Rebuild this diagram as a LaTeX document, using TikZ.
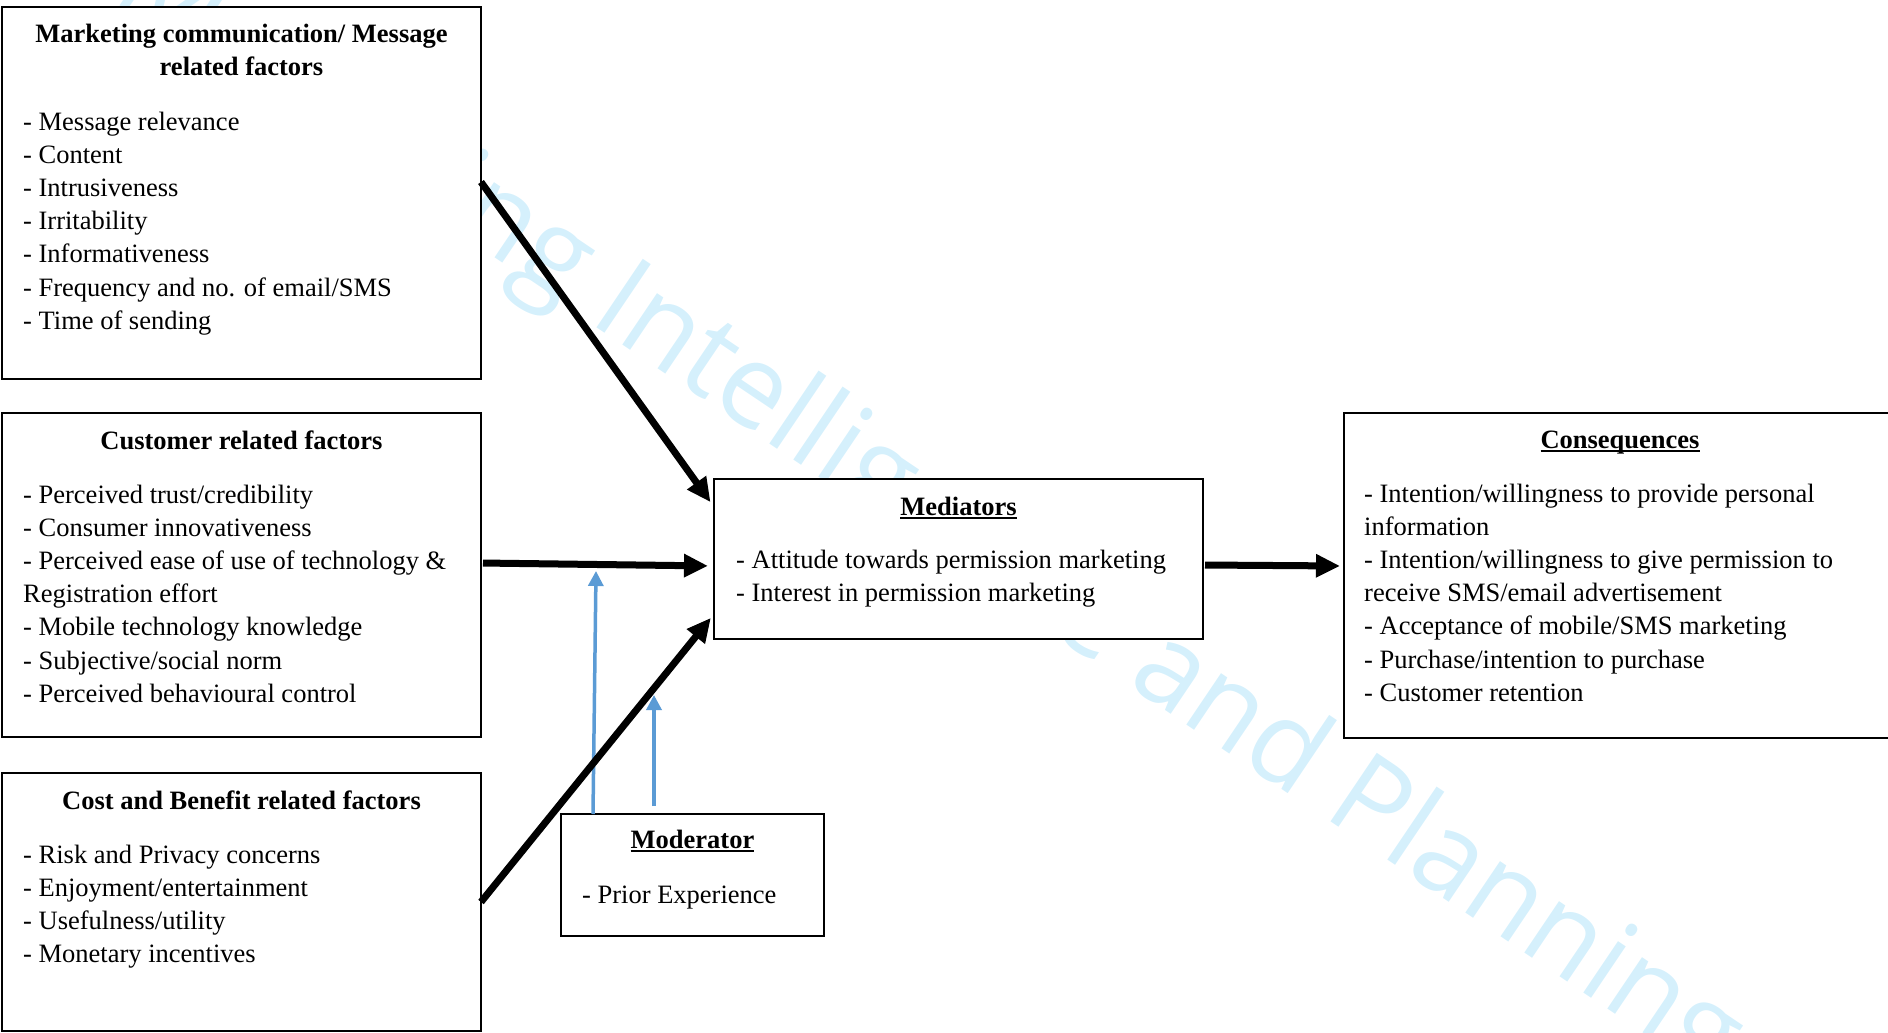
\documentclass[tikz,border=0pt]{standalone}
\usepackage{fontspec}
\setmainfont{Liberation Serif}
\newfontfamily\wmfont{Open Sans}
\usetikzlibrary{arrows.meta,calc}
\definecolor{wmblue}{RGB}{213,240,252}
\definecolor{modblue}{RGB}{91,155,213}
\newsavebox\myulbox
\newcommand\myul[1]{\sbox\myulbox{#1}\rlap{\rule[-4pt]{\wd\myulbox}{1.8pt}}\usebox\myulbox}
\begin{document}
\begin{tikzpicture}[x=1pt,y=-1pt,
  box/.style={draw,line width=2pt,fill=white,inner sep=0pt,outer sep=0pt,anchor=north west},
  txt/.style={inner sep=0pt,anchor=base west,font=\fontsize{26.5}{33.2}\selectfont},
  head/.style={inner sep=0pt,anchor=base,font=\fontsize{26.5}{33.2}\selectfont\bfseries},
  bigarrow/.style={line width=7pt,-{Triangle[length=24pt,width=22pt]}},
  modarrow/.style={modblue,line width=3.5pt,-{Triangle[length=15pt,width=15pt]}},
  wm/.style={inner sep=0pt,anchor=base,rotate=-34,text=wmblue,font=\wmfont\fontsize{116}{120}\selectfont}]
\useasboundingbox (0,0) rectangle (1888,1033);
% watermark
\node[wm] (wm) at (911,539) {Marketing Intelligence and Planning};
% boxes
\node[box,minimum width=479pt,minimum height=372pt] (mkt) at (2,7) {};
\node[box,minimum width=479pt,minimum height=324pt] (cust) at (2,413) {};
\node[box,minimum width=479pt,minimum height=258pt] (cost) at (2,773) {};
\node[box,minimum width=489pt,minimum height=160pt] (med) at (714,479) {};
\node[box,minimum width=560pt,minimum height=325pt] (cons) at (1344,413) {};
\node[box,minimum width=263pt,minimum height=122pt] (mod) at (561,814) {};
% moderator arrows
\coordinate (t1) at (596,571);
\coordinate (t2) at (654,695);
\draw[modarrow] ([xshift=32pt]mod.north west) -- (t1);
\draw[modarrow] ([xshift=-38.5pt,yshift=8pt]mod.north) -- (t2);
% main arrows
\draw[bigarrow,shorten >=6pt] ([yshift=-175pt]mkt.north east) -- ([yshift=-28pt]med.north west);
\draw[bigarrow,shorten <=2pt,shorten >=6pt] ([yshift=12pt]cust.east) -- ([yshift=-7pt]med.west);
\draw[bigarrow,shorten >=5pt] (cost.east) -- ([yshift=-55pt]med.west);
\draw[bigarrow,shorten <=2pt,shorten >=4pt] ([yshift=-6pt]med.east) -- ([yshift=9.5pt]cons.west);
% texts: marketing
\node[head] (mkth1) at (241.5,43) {Marketing communication/ Message};
\node[head] (mkth2) at (241.5,76) {related factors};
\foreach \t [count=\i from 0] in {{- Message relevance},{- Content},{- Intrusiveness},{- Irritability},{- Informativeness},{- Frequency and no. of email/SMS},{- Time of sending}}
  \node[txt] (mkt\i) at (23,130+33.2*\i) {\t};
% customer
\node[head] (custh) at (241.5,449) {Customer related factors};
\foreach \t [count=\i from 0] in {{- Perceived trust/credibility},{- Consumer innovativeness},{- Perceived ease of use of technology \&},{Registration effort},{- Mobile technology knowledge},{- Subjective/social norm},{- Perceived behavioural control}}
  \node[txt] (cust\i) at (23,503+33.2*\i) {\t};
% cost
\node[head] (costh) at (241.5,809) {Cost and Benefit related factors};
\foreach \t [count=\i from 0] in {{- Risk and Privacy concerns},{- Enjoyment/entertainment},{- Usefulness/utility},{- Monetary incentives}}
  \node[txt] (cost\i) at (23,863+33.2*\i) {\t};
% mediators
\node[head] (medh) at (958.5,515) {\myul{Mediators}};
\node[txt] (med0) at (736,568) {- Attitude towards permission marketing};
\node[txt] (med1) at (736,601) {- Interest in permission marketing};
% consequences
\node[head] (consh) at (1620,448) {\myul{Consequences}};
\foreach \t [count=\i from 0] in {{- Intention/willingness to provide personal},{information},{- Intention/willingness to give permission to},{receive SMS/email advertisement},{- Acceptance of mobile/SMS marketing},{- Purchase/intention to purchase},{- Customer retention}}
  \node[txt] (cons\i) at (1364,502+33.2*\i) {\t};
% moderator
\node[head] (modh) at (692.5,848) {\myul{Moderator}};
\node[txt] (mod0) at (582,903) {- Prior Experience};
\end{tikzpicture}
\end{document}
